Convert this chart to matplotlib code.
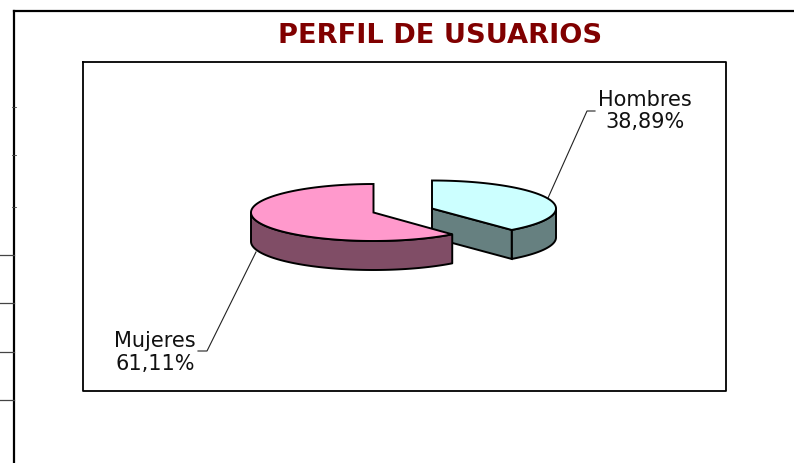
import matplotlib.pyplot as plt
import numpy as np

#datos
categorias = ["Hombres", "Mujeres"]
valores = [38.89, 61.11]
colores_arriba = ["#CCFFFF", "#FF99CC"]
colores_lado = ["#668080", "#804D66"]

#geometria en pixeles de la imagen
W, H = 794, 463
centros = [(432, 208.5), (373.5, 212.5)]
radios = [(124, 28), (122.5, 28.5)]
alturas = [29, 29]
etiquetas_pos = [(645, 100, 122), (155, 341, 364)]
guias = [[(548, 198), (587, 111), (595, 111)], [(256, 252), (207, 351), (198, 351)]]


def punto(c, r, ang):
    #angulo en grados desde arriba en sentido horario
    a = np.radians(ang)
    return c[0] + r[0]*np.sin(a), c[1] - r[1]*np.cos(a)


fig = plt.figure(figsize=(W/100, H/100), dpi=100)
ax = fig.add_axes([0, 0, 1, 1])
ax.set_xlim(0, W)
ax.set_ylim(H, 0)
ax.axis("off")

#lineas de la tabla de fondo
ax.plot([14, W], [11, 11], color="black", lw=1.6)
ax.plot([14, 14], [11, H], color="black", lw=1.6)
for y in [255, 303, 352, 400]:
    ax.plot([0, 14], [y, y], color="#444444", lw=0.9)
for y in [107, 155, 207]:
    ax.plot([12, 16], [y, y], color="#444444", lw=0.6)

#recuadro del grafico
ax.plot([83, 726, 726, 83, 83], [62, 62, 390.5, 390.5, 62], color="black", lw=1.3)

ax.text(440, 36, "PERFIL DE USUARIOS", color="#800000", fontsize=19.6, fontweight="bold",
        ha="center", va="center", family="DejaVu Sans")

#porciones: primero Hombres para que Mujeres quede por delante
angulos = np.cumsum([0] + valores)/sum(valores)*360
for i in range(len(valores)):
    c, r, h = centros[i], radios[i], alturas[i]
    a0, a1 = angulos[i], angulos[i+1]
    t = np.linspace(a0, a1, 200)
    xs, ys = punto(c, r, t)

    #borde curvo visible, solo la parte de adelante (90 a 270 grados)
    tv = t[(t >= 90) & (t <= 270)]
    xv, yv = punto(c, r, tv)
    ax.fill(np.r_[xv, xv[::-1]], np.r_[yv, yv[::-1]+h], facecolor=colores_lado[i],
            edgecolor="black", lw=1.4, joinstyle="round", zorder=2+i*3)

    #cara del corte de Hombres
    if a1 < 180:
        xf, yf = punto(c, r, a1)
        ax.fill([c[0], xf, xf, c[0]], [c[1], yf, yf+h, c[1]+h], facecolor=colores_lado[i],
                edgecolor="black", lw=1.4, zorder=2+i*3)

    ax.fill(np.r_[c[0], xs], np.r_[c[1], ys], facecolor=colores_arriba[i],
            edgecolor="black", lw=1.4, zorder=3+i*3)

    #etiquetas
    g = np.array(guias[i])
    ax.plot(g[:, 0], g[:, 1], color="#222222", lw=0.8, zorder=1)
    ex, ey1, ey2 = etiquetas_pos[i]
    ax.text(ex, ey1, categorias[i], fontsize=15, color="#111111", ha="center", va="center")
    ax.text(ex, ey2, f"{valores[i]:.2f}".replace(".", ",") + "%", fontsize=15, color="#111111",
            ha="center", va="center")

fig.savefig("out.png", dpi=100)
